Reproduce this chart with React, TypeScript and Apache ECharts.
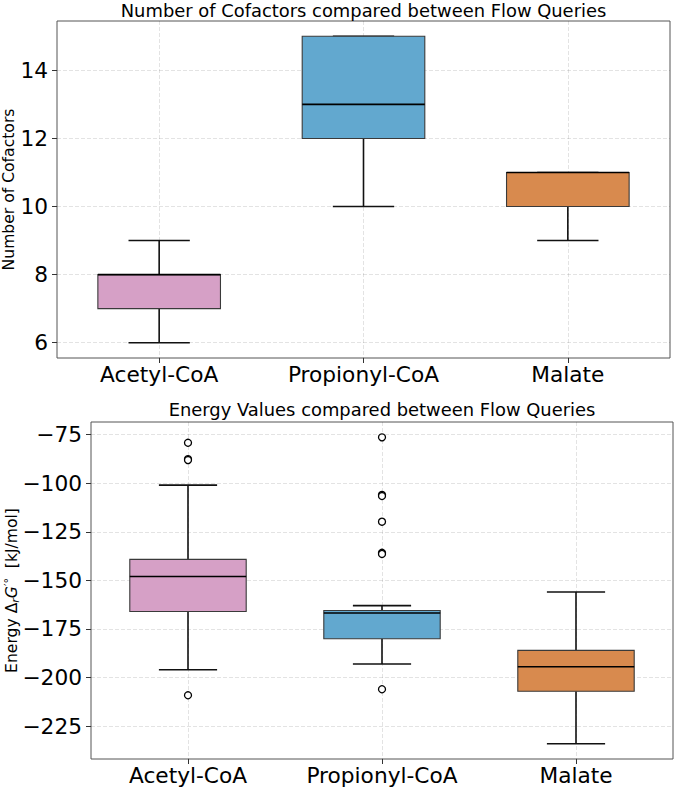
import React, { useEffect, useRef } from "react";
import * as echarts from "echarts";

const categories = ["Acetyl-CoA", "Propionyl-CoA", "Malate"];
const boxColors = ["#D6A0C6", "#62A8CF", "#D88A4E"];

// Box statistics per query: [lower whisker, Q1, median, Q3, upper whisker]
const cofactorStats = [
  [6, 7, 8, 8, 9],
  [10, 12, 13, 15, 15],
  [9, 10, 11, 11, 11],
];
const cofactorOutliers: number[][] = [[], [], []];
const cofactorTicks = [6, 8, 10, 12, 14];

const energyStats = [
  [-196, -166, -148, -139.2, -101],
  [-193, -180, -166.8, -165.5, -163],
  [-234, -207, -194.4, -186, -156],
];
const energyOutliers: number[][] = [
  [-79.2, -87.6, -88.1, -209.1],
  [-76.4, -106.0, -106.6, -119.8, -135.8, -136.4, -206.0],
  [],
];
const energyTicks = [-225, -200, -175, -150, -125, -100, -75];

const topTitle = "Number of Cofactors compared between Flow Queries";
const bottomTitle = "Energy Values compared between Flow Queries";

const FONT = "DejaVu Sans";
const BOX_FRACTION = 0.6;
const CAP_FRACTION = 0.3;

const positions = categories.map((_, i) => i + 1);

// padded extent (5% each side) over whiskers and fliers
function paddedExtent(stats: number[][], fliers: number[][]): [number, number] {
  const all = stats.flat().concat(fliers.flat());
  const lo = Math.min(...all);
  const hi = Math.max(...all);
  const pad = (hi - lo) * 0.05;
  return [lo - pad, hi + pad];
}

const minusFmt = (v: number) => String(v).replace("-", "\u2212");

const gridLine = {
  show: true,
  lineStyle: { color: "rgba(0,0,0,0.14)", type: [4, 2] as number[], width: 0.8 },
};
const tickStyle = { color: "#333", width: 1 };

function xAxisFor(gridIndex: number) {
  return {
    type: "value",
    gridIndex,
    min: 0.5,
    max: 3.5,
    axisLine: { show: false },
    axisTick: { show: true, length: 5, customValues: positions, lineStyle: tickStyle },
    axisLabel: {
      customValues: positions,
      formatter: (v: number) => categories[Math.round(v) - 1] ?? "",
      fontSize: 21.7,
      fontFamily: FONT,
      color: "#000",
      margin: 5,
    },
    splitLine: gridLine,
  };
}

function yAxisFor(
  gridIndex: number,
  extent: [number, number],
  ticks: number[],
  name: any,
  nameGap: number,
  rich?: any
) {
  return {
    type: "value",
    gridIndex,
    min: extent[0],
    max: extent[1],
    axisLine: { show: false },
    axisTick: { show: true, length: 5, customValues: ticks, lineStyle: tickStyle },
    axisLabel: {
      customValues: ticks,
      formatter: minusFmt,
      fontSize: 21.7,
      fontFamily: FONT,
      color: "#000",
      margin: 9,
    },
    splitLine: gridLine,
    name,
    nameLocation: "middle",
    nameRotate: 90,
    nameGap,
    nameMoveOverlap: false,
    nameTextStyle: { fontSize: 15.6, fontFamily: FONT, color: "#000", rich },
  };
}

function boxRenderer(params: any, api: any) {
  const x = api.value(0);
  const lo = api.value(1);
  const q1 = api.value(2);
  const med = api.value(3);
  const q3 = api.value(4);
  const hi = api.value(5);
  const band = api.size([1, 0])[0];
  const boxW = band * BOX_FRACTION;
  const capW = band * CAP_FRACTION;
  const [cx, yLo] = api.coord([x, lo]);
  const yQ1 = api.coord([x, q1])[1];
  const yMed = api.coord([x, med])[1];
  const yQ3 = api.coord([x, q3])[1];
  const yHi = api.coord([x, hi])[1];
  const stroke = { stroke: "#111", lineWidth: 1.6 };
  return {
    type: "group",
    children: [
      { type: "line", shape: { x1: cx, y1: yLo, x2: cx, y2: yQ1 }, style: stroke },
      { type: "line", shape: { x1: cx, y1: yQ3, x2: cx, y2: yHi }, style: stroke },
      { type: "line", shape: { x1: cx - capW / 2, y1: yLo, x2: cx + capW / 2, y2: yLo }, style: stroke },
      { type: "line", shape: { x1: cx - capW / 2, y1: yHi, x2: cx + capW / 2, y2: yHi }, style: stroke },
      {
        type: "rect",
        shape: { x: cx - boxW / 2, y: yQ3, width: boxW, height: yQ1 - yQ3 },
        style: { fill: boxColors[params.dataIndex], stroke: "#3a3a3a", lineWidth: 1.1 },
      },
      {
        type: "line",
        shape: { x1: cx - boxW / 2, y1: yMed, x2: cx + boxW / 2, y2: yMed },
        style: { stroke: "#000", lineWidth: 1.6 },
      },
    ],
  };
}

function boxSeries(index: number, stats: number[][]) {
  return {
    type: "custom",
    xAxisIndex: index,
    yAxisIndex: index,
    renderItem: boxRenderer,
    encode: { x: 0, y: [1, 2, 3, 4, 5] },
    data: stats.map((s, i) => [positions[i], ...s]),
    z: 2,
  };
}

function flierSeries(index: number, fliers: number[][]) {
  const pts: number[][] = [];
  fliers.forEach((list, i) => list.forEach((v) => pts.push([positions[i], v])));
  return {
    type: "scatter",
    xAxisIndex: index,
    yAxisIndex: index,
    data: pts,
    symbol: "circle",
    symbolSize: 7,
    itemStyle: { color: "#fff", borderColor: "#000", borderWidth: 1.3, opacity: 1 },
    z: 3,
  };
}

export default function App() {
  const ref = useRef<HTMLDivElement>(null);

  useEffect(() => {
    if (!ref.current) return;
    const chart = echarts.init(ref.current, undefined, { renderer: "svg" });

    const topExtent = paddedExtent(cofactorStats, cofactorOutliers);
    const bottomExtent = paddedExtent(energyStats, energyOutliers);

    const grids = [
      { left: 57, top: 21, width: 613, height: 337 },
      { left: 91, top: 422, width: 582, height: 337 },
    ];

    const energyRich = {
      n: { fontSize: 15.6, fontFamily: FONT, color: "#000", lineHeight: 18 },
      s: { fontSize: 11, fontFamily: FONT, color: "#000", fontStyle: "italic", verticalAlign: "bottom", lineHeight: 18 },
      i: { fontSize: 15.6, fontFamily: FONT, color: "#000", fontStyle: "italic", lineHeight: 18 },
      p: { fontSize: 11, fontFamily: FONT, color: "#000", verticalAlign: "top", lineHeight: 18 },
    };

    chart.setOption({
      animation: false,
      backgroundColor: "#fff",
      grid: grids.map((g) => ({
        ...g,
        show: true,
        borderColor: "#555",
        borderWidth: 1,
        backgroundColor: "transparent",
        containLabel: false,
        outerBoundsMode: "none",
      })),
      xAxis: [xAxisFor(0), xAxisFor(1)],
      yAxis: [
        yAxisFor(0, topExtent, cofactorTicks, "Number of Cofactors", 40),
        yAxisFor(
          1,
          bottomExtent,
          energyTicks,
          "{n|Energy Δ}{s|r}{i|G}{p|′°}{n|  [kJ/mol]}",
          70,
          energyRich
        ),
      ],
      graphic: [
        {
          type: "text",
          x: grids[0].left + grids[0].width / 2,
          y: 1.5,
          style: {
            text: topTitle,
            font: `17.9px "${FONT}"`,
            fill: "#000",
            textAlign: "center",
            textVerticalAlign: "top",
          },
        },
        {
          type: "text",
          x: grids[1].left + grids[1].width / 2,
          y: 400,
          style: {
            text: bottomTitle,
            font: `17.9px "${FONT}"`,
            fill: "#000",
            textAlign: "center",
            textVerticalAlign: "top",
          },
        },
      ],
      series: [
        boxSeries(0, cofactorStats),
        flierSeries(0, cofactorOutliers),
        boxSeries(1, energyStats),
        flierSeries(1, energyOutliers),
      ],
    });

    return () => chart.dispose();
  }, []);

  return (
    <div
      ref={ref}
      style={{ position: "absolute", left: 0, top: 0, width: 675, height: 789, background: "#fff" }}
    />
  );
}
